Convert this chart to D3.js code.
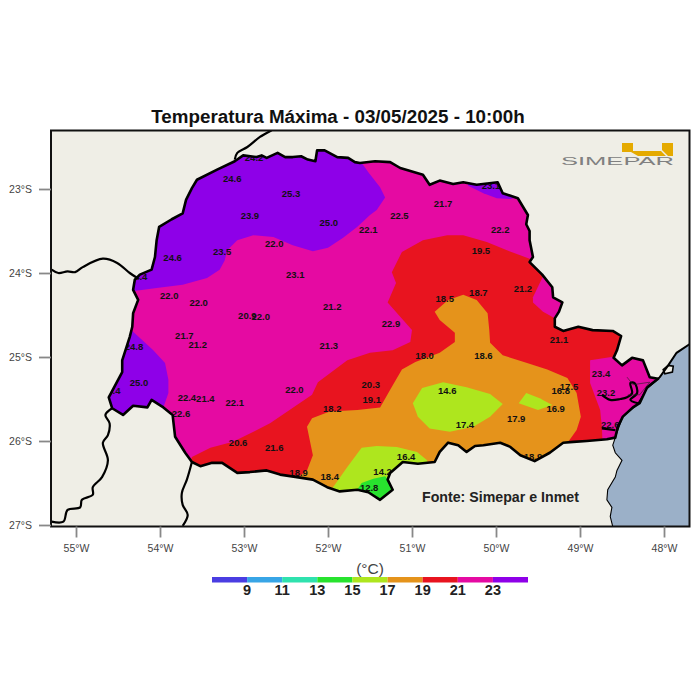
<!DOCTYPE html>
<html>
<head>
<meta charset="utf-8">
<script src="https://d3js.org/d3.v7.min.js"></script>
<style>
  html, body { margin: 0; padding: 0; background: #fff; }
  svg { display: block; }
  text { font-family: "Liberation Sans", Arial, sans-serif; }
</style>
</head>
<body>
<svg id="chart" width="700" height="700"></svg>
<script>
var LON_TICKS = [-55, -54, -53, -52, -51, -50, -49, -48];
var LAT_TICKS = [-23, -24, -25, -26, -27];

// colour bar
var LEVELS = [9, 11, 13, 15, 17, 19, 21, 23];
var LEVEL_EDGES = [7, 9, 11, 13, 15, 17, 19, 21, 23, 25];
var LEVEL_COLORS = ['#4a3de2', '#38a5e6', '#2fe2ae', '#28e32e', '#aee61e', '#e5931b', '#e8141f', '#e50aa2', '#8e00e8'];

// all outlines are [lon, lat]
var parana = [[-54.32,-24.20],[-54.30,-24.08],[-54.24,-24.02],[-54.10,-23.96],[-54.06,-23.81],[-54.04,-23.61],[-54.01,-23.45],
  [-53.86,-23.36],[-53.73,-23.29],[-53.69,-23.13],[-53.62,-22.99],[-53.56,-22.89],[-53.32,-22.77],[-53.11,-22.67],[-53.01,-22.60],
  [-52.85,-22.62],[-52.79,-22.60],[-52.73,-22.63],[-52.60,-22.57],[-52.51,-22.62],[-52.42,-22.62],[-52.32,-22.61],[-52.24,-22.65],[-52.15,-22.67],[-52.13,-22.54],[-52.04,-22.54],
  [-51.89,-22.62],[-51.76,-22.63],[-51.68,-22.68],[-51.62,-22.69],[-51.44,-22.67],[-51.26,-22.68],[-51.14,-22.75],[-50.87,-22.83],
  [-50.79,-22.95],[-50.67,-22.90],[-50.51,-22.94],[-50.39,-22.92],[-50.23,-22.95],[-49.98,-22.92],[-49.92,-23.05],[-49.74,-23.11],
  [-49.62,-23.31],[-49.64,-23.42],[-49.60,-23.50],[-49.60,-23.61],[-49.56,-23.81],[-49.60,-23.87],[-49.45,-24.02],[-49.33,-24.17],[-49.32,-24.29],[-49.21,-24.35],
  [-49.25,-24.46],[-49.30,-24.54],[-49.30,-24.64],[-49.20,-24.69],[-49.02,-24.64],[-48.85,-24.68],[-48.61,-24.69],[-48.51,-24.75],
  [-48.56,-24.92],[-48.60,-25.01],[-48.50,-25.10],[-48.38,-25.01],[-48.25,-25.04],[-48.17,-25.24],[-48.07,-25.26],[-48.20,-25.36],
  [-48.29,-25.55],[-48.37,-25.60],[-48.49,-25.71],[-48.55,-25.83],[-48.58,-25.96],[-48.68,-25.98],[-48.92,-26.00],[-49.08,-26.01],
  [-49.20,-26.02],[-49.36,-26.14],[-49.54,-26.24],[-49.71,-26.17],[-49.83,-26.07],[-49.95,-26.02],[-50.15,-26.05],[-50.25,-26.06],[-50.35,-26.13],[-50.45,-26.05],
  [-50.57,-26.02],[-50.67,-26.13],[-50.73,-26.25],[-50.93,-26.27],[-51.11,-26.25],[-51.26,-26.38],[-51.29,-26.46],[-51.23,-26.58],
  [-51.38,-26.70],[-51.52,-26.61],[-51.65,-26.58],[-51.86,-26.60],[-52.01,-26.55],[-52.18,-26.46],[-52.37,-26.43],[-52.57,-26.40],
  [-52.73,-26.35],[-52.93,-26.37],[-53.08,-26.38],[-53.26,-26.26],[-53.38,-26.26],[-53.52,-26.30],[-53.62,-26.25],[-53.70,-26.14],
  [-53.82,-25.95],[-53.85,-25.69],[-53.96,-25.60],[-54.10,-25.51],[-54.15,-25.60],[-54.32,-25.58],[-54.44,-25.69],[-54.57,-25.61],
  [-54.61,-25.48],[-54.45,-25.18],[-54.45,-25.04],[-54.36,-24.76],[-54.33,-24.64],[-54.32,-24.48],[-54.26,-24.32]];

var purpleNorth = [[-54.42,-24.23],[-54.04,-24.18],[-53.73,-24.14],[-53.44,-24.06],[-53.29,-23.96],[-53.23,-23.85],[-53.20,-23.73],
  [-53.08,-23.61],[-52.89,-23.55],[-52.65,-23.57],[-52.42,-23.67],[-52.18,-23.74],[-52.00,-23.70],[-51.82,-23.58],[-51.65,-23.45],
  [-51.50,-23.31],[-51.42,-23.25],[-51.32,-23.10],[-51.38,-22.98],[-51.52,-22.80],[-51.64,-22.63],[-51.64,-22.42],[-54.71,-22.42],[-54.71,-24.23]];
var purpleNortheast = [[-50.33,-22.96],[-50.15,-23.05],[-49.99,-23.11],[-49.83,-23.12],[-49.65,-23.07],[-49.83,-22.77],[-50.37,-22.77]];
var purpleSouthwest = [[-54.32,-24.70],[-54.08,-24.92],[-53.94,-25.07],[-53.90,-25.27],[-53.90,-25.43],[-53.96,-25.60],[-53.96,-25.81],
  [-54.71,-25.81],[-54.71,-24.62],[-54.42,-24.62]];
var redBand = [[-49.60,-23.83],[-49.87,-23.73],[-50.11,-23.63],[-50.39,-23.55],[-50.58,-23.55],[-50.87,-23.61],[-51.12,-23.75],[-51.24,-23.99],
  [-51.19,-24.12],[-51.29,-24.35],[-51.14,-24.52],[-51.00,-24.68],[-51.02,-24.82],[-51.23,-24.92],[-51.50,-24.95],[-51.77,-25.04],
  [-52.12,-25.30],[-52.19,-25.45],[-52.69,-25.79],[-53.13,-26.01],[-53.40,-26.08],[-53.62,-26.19],[-53.70,-26.46],[-48.76,-26.46],
  [-48.29,-24.56],[-49.24,-24.32]];
var magentaInland = [[-49.45,-24.06],[-49.56,-24.29],[-49.56,-24.35],[-49.44,-24.46],[-49.30,-24.54],[-49.06,-24.54],[-49.06,-24.08],[-49.36,-23.90]];
var magentaCoast = [[-48.88,-25.04],[-48.88,-25.31],[-48.76,-25.63],[-48.74,-25.83],[-48.73,-26.05],[-47.81,-26.05],[-47.81,-24.80],[-48.55,-24.86],[-48.57,-24.99]];
var orangeBand = [[-50.73,-24.46],[-50.57,-24.32],[-50.39,-24.26],[-50.23,-24.32],[-50.10,-24.48],[-50.08,-24.68],[-50.07,-24.83],[-49.92,-24.98],
  [-49.63,-25.07],[-49.39,-25.15],[-49.15,-25.25],[-49.04,-25.43],[-48.99,-25.71],[-49.04,-25.87],[-49.14,-26.01],[-49.24,-26.35],
  [-52.37,-26.64],[-52.37,-26.44],[-52.25,-26.35],[-52.18,-26.17],[-52.25,-25.83],[-52.19,-25.73],[-51.98,-25.65],[-51.65,-25.63],
  [-51.38,-25.60],[-51.26,-25.39],[-51.12,-25.15],[-50.96,-25.06],[-50.67,-24.95],[-50.49,-24.82],[-50.49,-24.71],[-50.67,-24.56]];
var limeCenter = [[-50.99,-25.55],[-50.88,-25.37],[-50.63,-25.30],[-50.35,-25.36],[-50.07,-25.44],[-49.92,-25.56],[-50.07,-25.71],
  [-50.27,-25.83],[-50.55,-25.89],[-50.79,-25.85],[-50.93,-25.71]];
var limeEast = [[-49.64,-25.43],[-49.48,-25.49],[-49.33,-25.57],[-49.50,-25.63],[-49.73,-25.55]];
var limeSouth = [[-51.60,-26.08],[-51.42,-26.06],[-51.18,-26.07],[-50.94,-26.13],[-50.82,-26.23],[-50.79,-26.46],[-51.20,-26.94],
  [-51.98,-26.82],[-51.94,-26.55],[-51.77,-26.31]];
var greenSouth = [[-51.69,-26.64],[-51.60,-26.50],[-51.46,-26.45],[-51.32,-26.42],[-51.20,-26.56],[-51.20,-26.82],[-51.69,-26.82]];

var sea = [[-47.67,-24.83],[-47.85,-24.95],[-47.95,-25.10],[-48.05,-25.24],[-48.20,-25.37],[-48.32,-25.57],[-48.49,-25.71],[-48.56,-25.90],
  [-48.61,-26.05],[-48.58,-26.14],[-48.50,-26.23],[-48.56,-26.35],[-48.58,-26.43],[-48.67,-26.58],[-48.68,-26.70],[-48.62,-26.79],[-48.64,-26.90],[-48.61,-27.02],[-47.67,-27.02]];
var island = [[-48.01,-25.15],[-47.95,-25.10],[-47.89,-25.11],[-47.90,-25.18],[-47.99,-25.20]];

var borders = [
  [[-55.29,-23.96],[-55.21,-24.00],[-55.10,-23.98],[-55.01,-23.99],[-54.92,-23.93],[-54.68,-23.83],[-54.51,-23.88],[-54.36,-24.00],[-54.27,-24.06]],
  [[-53.11,-22.65],[-53.08,-22.57],[-52.96,-22.50],[-52.81,-22.38],[-52.67,-22.30]],
  [[-54.57,-25.61],[-54.65,-25.69],[-54.60,-25.79],[-54.62,-25.93],[-54.68,-26.02],[-54.62,-26.23],[-54.69,-26.43],[-54.80,-26.55],[-54.80,-26.64],
   [-54.93,-26.70],[-54.95,-26.79],[-55.10,-26.82],[-55.15,-26.96],[-55.29,-26.96]],
  [[-53.62,-26.25],[-53.68,-26.46],[-53.74,-26.62],[-53.73,-26.76],[-53.67,-26.88],[-53.73,-27.01]],
  [[-48.74,-25.45],[-48.64,-25.51],[-48.52,-25.50],[-48.44,-25.48],[-48.38,-25.43],[-48.40,-25.31],[-48.35,-25.31],[-48.32,-25.43],[-48.40,-25.51],[-48.31,-25.55]],
  [[-48.74,-25.85],[-48.58,-25.87]]
];
var bayLines = [[-48.44,-25.24],[-48.37,-25.33],[-48.17,-25.30],[-48.29,-25.45],[-48.43,-25.45]];

// stations
var stationLon = [-52.88,-53.14,-52.44,-52.93,-51.99,-51.52,-51.15,-50.63,-50.06,-49.95,-50.18,-52.64,-53.26,-53.85,-52.39,-49.68,-53.89,-53.54,
  -50.61,-50.21,-51.95,-52.96,-52.80,-51.25,-53.71,-53.55,-51.99,-54.31,-49.25,-50.85,-50.15,-54.25,-51.49,-51.48,-48.75,-50.58,-49.13,-49.23,
  -52.40,-53.68,-53.46,-53.11,-48.69,-51.95,-49.76,-49.29,-53.75,-50.37,-48.64,-53.07,-52.64,-51.07,-52.35,-51.98,-51.35,-51.51,
  -54.58,-54.26,-49.56,-52.90];
var stationLat = [-22.63,-22.88,-23.05,-23.32,-23.40,-23.48,-23.32,-23.17,-22.96,-23.48,-23.74,-23.65,-23.75,-23.82,-24.02,-24.19,-24.27,-24.35,
  -24.30,-24.24,-24.40,-24.51,-24.52,-24.60,-24.75,-24.85,-24.86,-24.88,-24.79,-24.98,-24.98,-25.31,-25.33,-25.51,-25.20,-25.40,-25.35,-25.40,
  -25.39,-25.48,-25.50,-25.54,-25.42,-25.61,-25.74,-25.61,-25.68,-25.80,-25.81,-26.02,-26.08,-26.19,-26.38,-26.43,-26.36,-26.55,
  -25.40,-24.04,-26.19,-26.40];
var stationTemp = [24.2,24.6,25.3,23.9,25.0,22.1,22.5,21.7,23.1,22.2,19.5,22.0,23.5,24.6,23.1,21.2,22.0,22.0,
  18.5,18.7,21.2,20.9,22.0,22.9,21.7,21.2,21.3,24.8,21.1,18.0,18.6,25.0,20.3,19.1,23.4,14.6,17.5,16.8,
  22.0,22.4,21.4,22.1,23.2,18.2,17.9,16.9,22.6,17.4,22.6,20.6,21.6,16.4,18.9,18.4,14.2,12.8,
  24.4,24.4,18.9,18.3];

var svg = d3.select('#chart');
var x = d3.scaleLinear().domain([-55, -48]).range([76, 664]);
var y = d3.scaleLinear().domain([-23, -27]).range([189, 525]);
var legendX = d3.scaleLinear().domain([7, 25]).range([212, 528]);
var line = d3.line().x(function (d) { return x(d[0]); }).y(function (d) { return y(d[1]); });
var riverLine = d3.line().x(function (d) { return x(d[0]); }).y(function (d) { return y(d[1]); }).curve(d3.curveCatmullRom);
function closed(points) { return line(points) + 'Z'; }

var LAND = '#efeee6';
var FRAME = { left: 51, top: 130.5, right: 689.5, bottom: 526.5 };

svg.append('rect').attr('x', FRAME.left).attr('y', FRAME.top)
  .attr('width', FRAME.right - FRAME.left).attr('height', FRAME.bottom - FRAME.top).attr('fill', LAND);

svg.append('clipPath').attr('id', 'frame').append('rect')
  .attr('x', FRAME.left).attr('y', FRAME.top)
  .attr('width', FRAME.right - FRAME.left).attr('height', FRAME.bottom - FRAME.top);

// temperature bands, painted from the warm background inwards
var bands = [
  [parana, '#e50aa2'], [purpleNorth, '#8e00e8'], [purpleNortheast, '#8e00e8'], [purpleSouthwest, '#8e00e8'],
  [redBand, '#e8141f'], [magentaInland, '#e50aa2'], [magentaCoast, '#e50aa2'], [orangeBand, '#e5931b'],
  [limeCenter, '#aee61e'], [limeEast, '#aee61e'], [limeSouth, '#aee61e'], [greenSouth, '#28e32e']
];
svg.append('g').attr('clip-path', 'url(#frame)').selectAll('path').data(bands).join('path')
  .attr('d', function (d) { return closed(d[0]); })
  .attr('fill', function (d) { return d[1]; });

// labels go under the mask: the ones on the border get cut, as in the map
svg.append('g').selectAll('text').data(stationTemp).join('text')
  .attr('x', function (d, i) { return x(stationLon[i]); })
  .attr('y', function (d, i) { return y(stationLat[i]); })
  .attr('dy', '0.35em')
  .attr('text-anchor', 'middle')
  .attr('font-size', 9.5)
  .attr('font-weight', 'bold')
  .attr('fill', '#111')
  .text(function (d) { return d.toFixed(1); });

// everything outside Parana in land colour
svg.append('path')
  .attr('d', 'M' + FRAME.left + ',' + FRAME.top + 'H' + FRAME.right + 'V' + FRAME.bottom + 'H' + FRAME.left + 'Z' + closed(parana))
  .attr('fill-rule', 'evenodd')
  .attr('fill', LAND);

var map = svg.append('g').attr('clip-path', 'url(#frame)');
map.append('path').attr('d', closed(sea)).attr('fill', '#9bb0c8');
map.append('path').attr('d', closed(island)).attr('fill', LAND).attr('stroke', '#000').attr('stroke-width', 1.6);
map.append('path').attr('d', line(sea.slice(0, 5))).attr('fill', 'none').attr('stroke', '#000').attr('stroke-width', 2);
map.append('path').attr('d', line(sea.slice(4, 18))).attr('fill', 'none').attr('stroke', '#000').attr('stroke-width', 1.1);
map.append('path').attr('d', closed(parana)).attr('fill', 'none').attr('stroke', '#000')
  .attr('stroke-width', 2.6).attr('stroke-linejoin', 'round');
map.selectAll('.border').data(borders).join('path').attr('class', 'border')
  .attr('d', riverLine).attr('fill', 'none').attr('stroke', '#000')
  .attr('stroke-width', 2.2).attr('stroke-linejoin', 'round');
map.append('path').attr('d', line(bayLines)).attr('fill', 'none').attr('stroke', '#222').attr('stroke-width', 0.6);

svg.append('rect').attr('x', FRAME.left).attr('y', FRAME.top)
  .attr('width', FRAME.right - FRAME.left).attr('height', FRAME.bottom - FRAME.top)
  .attr('fill', 'none').attr('stroke', '#111').attr('stroke-width', 2);

// axes
var xAxis = d3.axisBottom(x).tickValues(LON_TICKS).tickSize(11).tickPadding(7.5)
  .tickFormat(function (d) { return Math.abs(d) + '\u00b0W'; });
var yAxis = d3.axisLeft(y).tickValues(LAT_TICKS).tickSize(12).tickPadding(7)
  .tickFormat(function (d) { return Math.abs(d) + '\u00b0S'; });
var gx = svg.append('g').attr('transform', 'translate(0,' + FRAME.bottom + ')').call(xAxis);
var gy = svg.append('g').attr('transform', 'translate(' + FRAME.left + ',0)').call(yAxis);
[gx, gy].forEach(function (g) {
  g.select('.domain').remove();
  g.selectAll('.tick line').attr('stroke', '#888').attr('stroke-width', 1.8);
  g.selectAll('.tick text').attr('fill', '#444').attr('font-size', 10.5)
    .attr('font-family', '"Liberation Sans", Arial, sans-serif');
});

// title and source
svg.append('text').attr('x', 338).attr('y', 123).attr('text-anchor', 'middle')
  .attr('font-size', 18.8).attr('font-weight', 'bold').attr('fill', '#111')
  .text('Temperatura M\u00e1xima - 03/05/2025 - 10:00h');
svg.append('text').attr('x', 422).attr('y', 502)
  .attr('font-size', 14.2).attr('font-weight', 'bold').attr('fill', '#222')
  .text('Fonte: Simepar e Inmet');

// logo
var logo = svg.append('g');
logo.append('path').attr('d', 'M622,143H633V151H661L666,156H638L631,152H622Z').attr('fill', '#e5aa00');
logo.append('path').attr('d', 'M662,143H673V156H668L662,150Z').attr('fill', '#e5aa00');
logo.append('text').attr('x', 561).attr('y', 164.5).attr('textLength', 113).attr('lengthAdjust', 'spacingAndGlyphs')
  .attr('font-size', 11).attr('fill', '#808080').text('SIMEPAR');

// colour bar
svg.append('g').selectAll('rect').data(LEVEL_COLORS).join('rect')
  .attr('x', function (d, i) { return legendX(LEVEL_EDGES[i]); })
  .attr('y', 577)
  .attr('width', function (d, i) { return legendX(LEVEL_EDGES[i + 1]) - legendX(LEVEL_EDGES[i]); })
  .attr('height', 5.5)
  .attr('fill', function (d) { return d; });
svg.append('g').selectAll('text').data(LEVELS).join('text')
  .attr('x', legendX).attr('y', 595)
  .attr('text-anchor', 'middle')
  .attr('font-size', 14.5).attr('font-weight', 'bold').attr('fill', '#222')
  .text(function (d) { return d; });
svg.append('text').attr('x', 370).attr('y', 574).attr('text-anchor', 'middle')
  .attr('font-size', 15.5).attr('fill', '#444').text('(\u00b0C)');
</script>
</body>
</html>
